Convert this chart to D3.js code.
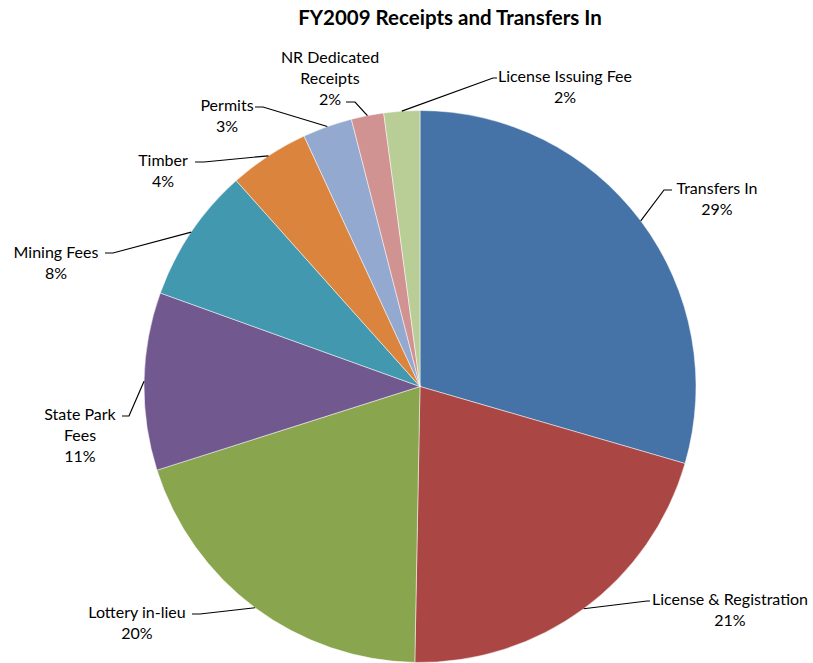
<!DOCTYPE html>
<html>
<head>
<meta charset="utf-8">
<script src="https://cdn.jsdelivr.net/npm/d3@7"></script>
<style>
  body { margin: 0; background: #fff; }
  text { font-family: Lato, "Open Sans", sans-serif; fill: #000; }
</style>
</head>
<body>
<div id="chart"></div>
<script>
// data (percent of total)
var categories = ["Transfers In", "License & Registration", "Lottery in-lieu", "State Park Fees",
                  "Mining Fees", "Timber", "Permits", "NR Dedicated Receipts", "License Issuing Fee"];
var values = [29.5, 20.8, 19.8, 10.4, 7.9, 4.7, 2.9, 1.9, 2.1];
var percentLabels = ["29%", "21%", "20%", "11%", "8%", "4%", "3%", "2%", "2%"];
var colors = ["#4572A7", "#AA4643", "#89A54E", "#71588F", "#4198AF", "#DB843D", "#93A9CF", "#D19392", "#B9CD96"];

// label layout: text lines, text centre x, first baseline y, elbow point, end of tick
var labelLayout = [
    { lines: ["Transfers In"], x: 717, y: 194, ex: 664, ey: 190, tx: 672 },
    { lines: ["License & Registration"], x: 730, y: 605, ex: 647, ey: 601, tx: 650 },
    { lines: ["Lottery in-lieu"], x: 137, y: 618, ex: 200, ey: 614, tx: 192 },
    { lines: ["State Park", "Fees"], x: 80, y: 420, ex: 129, ey: 416, tx: 122 },
    { lines: ["Mining Fees"], x: 56, y: 258, ex: 113, ey: 253, tx: 105 },
    { lines: ["Timber"], x: 163, y: 166, ex: 204, ey: 162, tx: 195 },
    { lines: ["Permits"], x: 227, y: 111, ex: 263, ey: 107, tx: 255 },
    { lines: ["NR Dedicated", "Receipts"], x: 330, y: 63, ex: 355, ey: 102, tx: 346 },
    { lines: ["License Issuing Fee"], x: 565, y: 82, ex: 493, ey: 78, tx: 497 }
];

var width = 813, height = 663;
var cx = 420, cy = 386.5, radius = 276;
var lineHeight = 21;

var svg = d3.select("#chart").append("svg")
    .attr("width", width)
    .attr("height", height);

// title
svg.append("text")
    .attr("x", 450)
    .attr("y", 25)
    .attr("text-anchor", "middle")
    .style("font-weight", "bold")
    .style("font-size", "20.5px")
    .text("FY2009 Receipts and Transfers In");

var pie = d3.pie().sort(null).value(function (d) { return d; });
var arc = d3.arc().innerRadius(0).outerRadius(radius);
var arcs = pie(values);

var g = svg.append("g").attr("transform", "translate(" + cx + "," + cy + ")");

g.selectAll("path")
    .data(arcs)
    .enter()
    .append("path")
    .attr("d", arc)
    .attr("fill", function (d, i) { return colors[i]; })
    .attr("stroke", "#fff")
    .attr("stroke-width", 0.5);

// leader lines start on the rim at the middle of each slice
var rimPoint = function (d) {
    var a = (d.startAngle + d.endAngle) / 2;
    return [cx + radius * Math.sin(a), cy - radius * Math.cos(a)];
};

svg.selectAll(".leader")
    .data(arcs)
    .enter()
    .append("polyline")
    .attr("class", "leader")
    .attr("fill", "none")
    .attr("stroke", "#000")
    .attr("stroke-width", 1.2)
    .attr("points", function (d, i) {
        var p = rimPoint(d), l = labelLayout[i];
        return [p, [l.ex, l.ey], [l.tx, l.ey]].map(function (q) { return q.join(","); }).join(" ");
    });

// labels
var labels = svg.selectAll(".label")
    .data(arcs)
    .enter()
    .append("text")
    .attr("class", "label")
    .attr("text-anchor", "middle")
    .style("font-size", "16px");

labels.each(function (d, i) {
    var l = labelLayout[i];
    var t = d3.select(this);
    l.lines.concat([percentLabels[i]]).forEach(function (s, k) {
        t.append("tspan")
            .attr("x", l.x)
            .attr("y", l.y + k * lineHeight)
            .text(s);
    });
});
</script>
</body>
</html>
